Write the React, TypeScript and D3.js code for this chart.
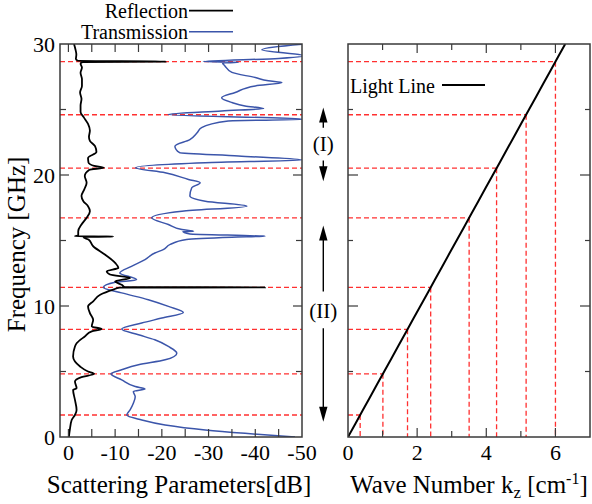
import * as d3 from "d3";

// reflection (black) and transmission (blue), frequency in GHz vs dB
const reflFreq = [30.0, 29.6, 29.2, 28.85, 28.72, 28.66, 28.62, 28.5, 28.2, 27.8, 27.3, 26.8, 26.3, 25.8, 25.3, 24.8, 24.4, 23.9, 23.4, 22.9, 22.6, 22.2, 21.75, 21.3, 20.95, 20.7, 20.56, 20.4, 19.92, 19.41, 18.9, 18.39, 18.0, 17.62, 17.24, 16.73, 16.22, 15.71, 15.4, 15.32, 15.3, 15.26, 15.07, 14.56, 13.93, 13.29, 12.91, 12.65, 12.4, 12.14, 11.88, 11.6, 11.44, 11.42, 11.4, 11.25, 10.86, 10.35, 9.97, 9.46, 8.95, 8.44, 8.24, 8.06, 7.67, 7.17, 6.91, 6.14, 5.38, 5.0, 4.82, 4.57, 4.23, 3.72, 3.6, 2.83, 2.07, 1.68, 1.3, 0.54, 0];
const reflDb = [-1.2, -1.5, -1.7, -1.6, -2.0, -20.8, -3.0, -2.6, -2.9, -2.6, -2.9, -2.9, -2.5, -2.8, -2.6, -2.6, -3.3, -4.2, -4.6, -4.4, -4.6, -5.7, -6.0, -4.2, -4.3, -5.5, -7.6, -4.5, -3.5, -3.9, -3.4, -2.8, -3.2, -4.2, -4.6, -3.9, -2.8, -2.1, -2.1, -1.4, -9.6, -3.2, -4.3, -5.3, -7.8, -10.0, -10.7, -8.2, -8.9, -13.2, -10.0, -11.5, -12.0, -42.1, -11.0, -9.6, -6.8, -5.3, -4.2, -4.6, -5.3, -5.0, -7.1, -5.0, -3.5, -1.8, -1.4, -1.0, -2.5, -4.2, -5.5, -2.8, -1.4, -1.75, -1.0, -1.4, -1.75, -1.4, -0.7, -0.3, -0.1];

const transFreq = [30.0, 29.56, 29.1, 28.9, 28.66, 28.6, 28.55, 28.33, 27.83, 27.44, 27.19, 27.06, 26.8, 26.3, 25.9, 25.53, 25.27, 25.07, 24.89, 24.62, 24.25, 24.13, 23.62, 23.2, 22.7, 22.2, 21.7, 21.45, 21.15, 20.94, 20.56, 20.17, 19.66, 19.41, 19.03, 18.39, 18.0, 17.62, 17.24, 16.73, 16.22, 15.84, 15.71, 15.68, 15.5, 15.33, 15.25, 15.07, 14.7, 14.3, 14.05, 13.54, 13.03, 12.52, 12.01, 11.81, 11.42, 11.0, 10.48, 9.97, 9.51, 9.08, 8.7, 8.24, 7.8, 7.42, 6.91, 6.4, 5.89, 5.51, 5.13, 4.82, 4.36, 3.85, 3.67, 3.47, 3.08, 2.58, 2.07, 1.68, 1.3, 0.92, 0.54, 0.28, 0];
const transDb = [-50.5, -41.4, -50.5, -45, -28.9, -36.4, -33, -33.5, -35, -40, -42.8, -45.7, -40, -35.7, -32.8, -35, -37.8, -41.8, -32.8, -21.4, -50.5, -34.2, -28.5, -27.5, -26.0, -22.8, -23.8, -36.4, -50, -29.3, -14.4, -20.7, -25.7, -28.2, -26.4, -26.0, -29.3, -38.2, -24.3, -17.8, -21.4, -24.3, -26.8, -24.5, -26, -42.1, -35, -25.3, -21.8, -20.3, -18.5, -16.4, -13.5, -11.0, -14.6, -10.0, -7.5, -11.4, -17.1, -21.4, -24.6, -20, -15.7, -11.4, -15, -18.5, -21.4, -23.2, -20.7, -15, -11.4, -9.1, -11.4, -14.3, -16.4, -13.9, -14.3, -13.9, -13.2, -12.5, -15.7, -20.7, -29.3, -37.8, -48.5];

// resonance frequencies marked with dashed lines
const markFreq = [1.68, 4.82, 8.22, 11.42, 16.73, 20.52, 24.6, 28.65];

const dbTicks = [0, -10, -20, -30, -40, -50];
const dbMinor = [0, -5, -10, -15, -20, -25, -30, -35, -40, -45];
const freqTicks = [0, 10, 20, 30];
const freqAll = [5, 10, 15, 20, 25];
const kTicks = [0, 2, 4, 6];
const kAll = [1, 2, 3, 4, 5, 6];

// region arrows (GHz)
const regions = [
  { label: "(I)", top: 25.15, upEnd: 23.6, downStart: 21.1, bottom: 19.53, mid: 22.35 },
  { label: "(II)", top: 16.14, upEnd: 11.1, downStart: 8.3, bottom: 1.17, mid: 9.6 },
];

const lightK = (f: number) => (2 * Math.PI * f) / 30;

const FONT = "'Liberation Serif', 'Times New Roman', serif";
const RED = "#ff3030";
const BLUE = "#3b55aa";
const FRAME = "#3a3a3a";

export default function App() {
  const W = 592;
  const H = 504;
  const top = 44;
  const bottom = 437;

  const y = d3.scaleLinear().domain([0, 30]).range([bottom, top]);
  const xL = d3.scaleLinear().domain([1.8, -50]).range([60, 302]);
  const xR = d3.scaleLinear().domain([0, 7]).range([348, 590]);

  const refl = reflFreq.map((f, i) => [reflDb[i], f] as [number, number]);
  const trans = transFreq.map((f, i) => [transDb[i], f] as [number, number]);

  const lineL = d3
    .line<[number, number]>()
    .x((d) => xL(d[0]))
    .y((d) => y(d[1]))
    .curve(d3.curveMonotoneY);

  const lightPts = d3.range(0, 31, 1).map((f) => [lightK(f), f] as [number, number]);
  const lineR = d3
    .line<[number, number]>()
    .x((d) => xR(d[0]))
    .y((d) => y(d[1]));

  const [l0, l1] = xL.range();
  const [r0, r1] = xR.range();

  return (
    <svg width={W} height={H} style={{ position: "absolute", left: 0, top: 0, background: "#fff" }} fontFamily={FONT}>
      <defs>
        <clipPath id="clipL">
          <rect x={l0} y={top} width={l1 - l0} height={bottom - top} />
        </clipPath>
        <clipPath id="clipR">
          <rect x={r0} y={top} width={r1 - r0} height={bottom - top} />
        </clipPath>
      </defs>

      {/* left panel dashed markers */}
      {markFreq.map((f) => (
        <line key={"lm" + f} x1={l0} x2={l1} y1={y(f)} y2={y(f)} stroke={RED} strokeWidth={1.3} strokeDasharray="5 3" />
      ))}

      <g clipPath="url(#clipL)">
        <path d={lineL(trans) ?? ""} fill="none" stroke={BLUE} strokeWidth={1.5} />
        <path d={lineL(refl) ?? ""} fill="none" stroke="#000" strokeWidth={1.8} />
      </g>

      {/* left frame + ticks */}
      <rect x={l0} y={top} width={l1 - l0} height={bottom - top} fill="none" stroke={FRAME} strokeWidth={1.5} />
      {dbMinor.map((v) => (
        <g key={"lx" + v}>
          <line x1={xL(v)} x2={xL(v)} y1={top} y2={top + 8} stroke={FRAME} strokeWidth={1.2} />
          <line x1={xL(v)} x2={xL(v)} y1={bottom} y2={bottom - 8} stroke={FRAME} strokeWidth={1.2} />
        </g>
      ))}
      {freqAll.map((f) => {
        const len = f % 10 === 0 ? 9 : 6;
        return (
          <g key={"ly" + f}>
            <line x1={l0} x2={l0 + len} y1={y(f)} y2={y(f)} stroke={FRAME} strokeWidth={1.2} />
            <line x1={l1} x2={l1 - len} y1={y(f)} y2={y(f)} stroke={FRAME} strokeWidth={1.2} />
          </g>
        );
      })}
      {dbTicks.map((v) => (
        <text key={"lxt" + v} x={xL(v)} y={460} fontSize={22} textAnchor="middle">
          {v === 0 ? "0" : "-" + Math.abs(v)}
        </text>
      ))}
      {freqTicks.map((f) => (
        <text key={"lyt" + f} x={55} y={y(f)} fontSize={22} textAnchor="end" dominantBaseline="central">
          {f}
        </text>
      ))}
      <text x={(l0 + l1) / 2 - 2} y={493} fontSize={25} textAnchor="middle">
        Scattering Parameters[dB]
      </text>
      <text transform={`translate(25,${y(14.7)}) rotate(-90)`} fontSize={25} textAnchor="middle">
        Frequency [GHz]
      </text>

      {/* legend */}
      <text x={188} y={18} fontSize={20} textAnchor="end">Reflection</text>
      <line x1={189} x2={233} y1={10.7} y2={10.7} stroke="#000" strokeWidth={1.8} />
      <text x={188} y={39} fontSize={20} textAnchor="end">Transmission</text>
      <line x1={189} x2={233} y1={31.7} y2={31.7} stroke={BLUE} strokeWidth={1.5} />

      {/* region arrows */}
      {regions.map((r) => {
        const ax = 323.3;
        const head = 15;
        const hw = 4.2;
        return (
          <g key={r.label}>
            <line x1={ax} x2={ax} y1={y(r.top) + head - 1} y2={y(r.upEnd)} stroke="#000" strokeWidth={1.4} />
            <polygon points={`${ax},${y(r.top)} ${ax - hw},${y(r.top) + head} ${ax + hw},${y(r.top) + head}`} fill="#000" />
            <line x1={ax} x2={ax} y1={y(r.downStart)} y2={y(r.bottom) - head + 1} stroke="#000" strokeWidth={1.4} />
            <polygon points={`${ax},${y(r.bottom)} ${ax - hw},${y(r.bottom) - head} ${ax + hw},${y(r.bottom) - head}`} fill="#000" />
            <text x={ax} y={y(r.mid)} fontSize={21} textAnchor="middle" dominantBaseline="central">
              {r.label}
            </text>
          </g>
        );
      })}

      {/* right panel dashed projections */}
      {markFreq.map((f) => (
        <g key={"rm" + f}>
          <line x1={r0} x2={xR(lightK(f))} y1={y(f)} y2={y(f)} stroke={RED} strokeWidth={1.3} strokeDasharray="5 3" />
          <line x1={xR(lightK(f))} x2={xR(lightK(f))} y1={y(f)} y2={bottom} stroke={RED} strokeWidth={1.3} strokeDasharray="5 3" />
        </g>
      ))}
      <g clipPath="url(#clipR)">
        <path d={lineR(lightPts) ?? ""} fill="none" stroke="#000" strokeWidth={2} />
      </g>

      <rect x={r0} y={top} width={r1 - r0} height={bottom - top} fill="none" stroke={FRAME} strokeWidth={1.5} />
      {kAll.map((k) => {
        const len = k % 2 === 0 ? 9 : 6;
        return (
          <g key={"rx" + k}>
            <line x1={xR(k)} x2={xR(k)} y1={top} y2={top + len} stroke={FRAME} strokeWidth={1.2} />
            <line x1={xR(k)} x2={xR(k)} y1={bottom} y2={bottom - len} stroke={FRAME} strokeWidth={1.2} />
          </g>
        );
      })}
      {freqAll.map((f) => {
        const len = f % 10 === 0 ? 10 : 5;
        return (
          <g key={"ry" + f}>
            <line x1={r0} x2={r0 + len} y1={y(f)} y2={y(f)} stroke={FRAME} strokeWidth={1.2} />
            <line x1={r1} x2={r1 - len} y1={y(f)} y2={y(f)} stroke={FRAME} strokeWidth={1.2} />
          </g>
        );
      })}
      {kTicks.map((k) => (
        <text key={"rxt" + k} x={xR(k)} y={460} fontSize={22} textAnchor="middle">
          {k}
        </text>
      ))}
      <text x={(r0 + r1) / 2} y={493} fontSize={25} textAnchor="middle">
        Wave Number k
        <tspan fontSize={17} dy={5}>z</tspan>
        <tspan dy={-5}> [cm</tspan>
        <tspan fontSize={16} dy={-9}>-1</tspan>
        <tspan dy={9}>]</tspan>
      </text>

      {/* light line legend */}
      <text x={350} y={93} fontSize={20}>Light Line</text>
      <line x1={442} x2={485} y1={85} y2={85} stroke="#000" strokeWidth={2} />
    </svg>
  );
}
